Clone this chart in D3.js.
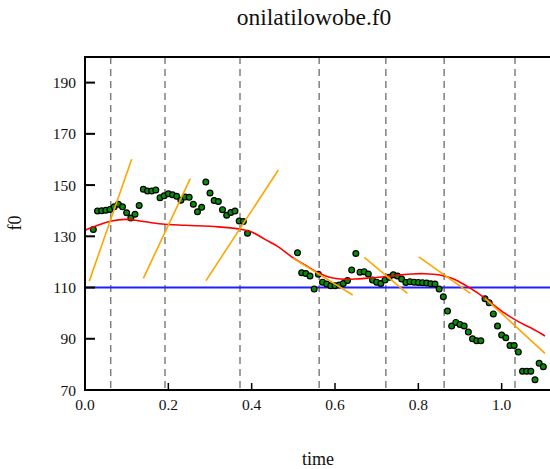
<!DOCTYPE html>
<html>
<head>
<meta charset="utf-8">
<script src="https://cdn.jsdelivr.net/npm/d3@7"></script>
<style>
  html, body { margin: 0; padding: 0; background: #fff; }
  svg { display: block; }
</style>
</head>
<body>
<svg id="chart" width="550" height="469"></svg>
<script>
// ---- data ----
const title = "onilatilowobe.f0";
const xLabel = "time";
const yLabel = "f0";
const xTicks = [0.0, 0.2, 0.4, 0.6, 0.8, 1.0];
const yTicks = [70, 90, 110, 130, 150, 170, 190];

// f0 samples, 10 ms step
const seg1Times = d3.range(0.02, 0.395, 0.01);
const seg1Values = [132.7, 139.9, 140.0, 140.2, 140.5, 141.5, 142.5, 141.5, 139.2, 137.1,
  138.6, 142.0, 148.4, 147.7, 147.7, 148.1, 145.1, 145.8, 146.6, 146.2,
  145.6, 144.1, 145.3, 145.2, 142.5, 139.6, 141.3, 151.2, 146.9, 144.0,
  143.6, 140.4, 138.2, 139.3, 139.9, 136.0, 135.8, 131.2];
const seg2Times = d3.range(0.51, 1.105, 0.01);
const seg2Values = [123.6, 115.8, 115.5, 114.5, 109.4, 115.2, 112.1, 111.4, 110.7, 110.7,
  111.0, 111.6, 112.7, 116.8, 123.3, 116.0, 116.2, 115.3, 112.9, 112.1,
  111.6, 112.9, 114.0, 115.0, 114.5, 113.3, 112.0, 112.3, 112.1, 112.0,
  111.9, 111.8, 111.5, 111.4, 109.4, 106.4, 100.8, 95.0, 96.4, 95.6,
  95.0, 92.6, 90.0, 89.2, 89.2, 105.6, 104.1, 99.7, 95.0, 91.5,
  90.4, 87.4, 87.4, 84.8, 77.3, 77.3, 77.3, 74.0, 80.4, 79.1];

// smooth fitted contour (red)
const curveTimes = [0, 0.032, 0.064, 0.096, 0.128, 0.16, 0.192, 0.24, 0.32, 0.368, 0.40,
  0.432, 0.464, 0.496, 0.528, 0.56, 0.592, 0.624, 0.656, 0.688, 0.72, 0.752, 0.784,
  0.816, 0.848, 0.88, 0.912, 0.944, 0.976, 1.008, 1.04, 1.072, 1.104];
const curveValues = [132.4, 134.4, 136.0, 136.6, 136.1, 135.3, 134.7, 134.3, 133.7, 132.9, 131.7,
  128.8, 125.9, 122.0, 118.8, 115.8, 113.8, 113.2, 113.4, 113.8, 114.2, 114.8, 115.3,
  115.4, 115.0, 113.6, 111.0, 107.7, 103.8, 99.9, 96.7, 94.1, 91.1];

// target slopes (orange): start/end times and values
const slopeT0 = [0.0103, 0.140, 0.2904, 0.500, 0.6704, 0.801, 0.960];
const slopeV0 = [112.5, 113.6, 112.7, 121.4, 121.8, 122.0, 105.8];
const slopeT1 = [0.112, 0.2527, 0.464, 0.6425, 0.7736, 0.9248, 1.104];
const slopeV1 = [160.1, 152.5, 155.9, 107.1, 107.7, 107.7, 84.3];

// syllable boundaries (dashed)
const boundaries = [0.0617, 0.192, 0.372, 0.562, 0.722, 0.862, 1.032];
const baseline = 110;

// ---- drawing ----
const FONT = "'Liberation Serif'";
const svg = d3.select("#chart");
const x = d3.scaleLinear().domain([0, 1.116]).range([85, 550]);
const y = d3.scaleLinear().domain([70, 200]).range([390, 57]);

// dashed boundaries
svg.append("g").selectAll("line").data(boundaries).join("line")
  .attr("x1", d => x(d)).attr("x2", d => x(d))
  .attr("y1", y(200)).attr("y2", y(70))
  .attr("stroke", "#808080").attr("stroke-width", 1.5)
  .attr("stroke-dasharray", "7,5");

// baseline
svg.append("line")
  .attr("x1", x(0)).attr("x2", x(1.116))
  .attr("y1", y(baseline)).attr("y2", y(baseline))
  .attr("stroke", "#2020ff").attr("stroke-width", 2);

// points
const pts = seg1Times.map((t, i) => [t, seg1Values[i]])
  .concat(seg2Times.map((t, i) => [t, seg2Values[i]]))
  .filter(d => d[1] !== undefined);
svg.append("g").selectAll("circle").data(pts).join("circle")
  .attr("cx", d => x(d[0])).attr("cy", d => y(d[1]))
  .attr("r", 2.9)
  .attr("fill", "#0a8a0a").attr("stroke", "#000").attr("stroke-width", 1.2);

// red curve
const line = d3.line().x(d => x(d[0])).y(d => y(d[1])).curve(d3.curveCatmullRom.alpha(0.5));
svg.append("path")
  .datum(curveTimes.map((t, i) => [t, curveValues[i]]))
  .attr("d", line)
  .attr("fill", "none").attr("stroke", "#ff0000").attr("stroke-width", 1.6);

// orange slopes
svg.append("g").selectAll("line").data(slopeT0.map((t, i) => i)).join("line")
  .attr("x1", i => x(slopeT0[i])).attr("y1", i => y(slopeV0[i]))
  .attr("x2", i => x(slopeT1[i])).attr("y2", i => y(slopeV1[i]))
  .attr("stroke", "#ffa500").attr("stroke-width", 1.6);

// axes frame
svg.append("line").attr("x1", x(0)).attr("x2", x(1.116)).attr("y1", y(200)).attr("y2", y(200))
  .attr("stroke", "#000").attr("stroke-width", 2);
svg.append("line").attr("x1", x(0)).attr("x2", x(1.116)).attr("y1", y(70)).attr("y2", y(70))
  .attr("stroke", "#000").attr("stroke-width", 2);
svg.append("line").attr("x1", x(0)).attr("x2", x(0)).attr("y1", y(200) - 1).attr("y2", y(70) + 1)
  .attr("stroke", "#000").attr("stroke-width", 2);

// y ticks
const yAxis = svg.append("g");
yAxis.selectAll("line").data(yTicks).join("line")
  .attr("x1", x(0)).attr("x2", x(0) + 10)
  .attr("y1", d => y(d)).attr("y2", d => y(d))
  .attr("stroke", "#000").attr("stroke-width", 2);
yAxis.selectAll("text").data(yTicks).join("text")
  .attr("x", 76).attr("y", d => y(d) + 5.5)
  .attr("text-anchor", "end").attr("font-size", 15.5)
  .attr("font-family", FONT).attr("fill", "#111")
  .text(d => d);

// x ticks
const xAxis = svg.append("g");
xAxis.selectAll("line").data(xTicks).join("line")
  .attr("x1", d => x(d)).attr("x2", d => x(d))
  .attr("y1", y(70)).attr("y2", y(70) - 7)
  .attr("stroke", "#000").attr("stroke-width", 1.5);
xAxis.selectAll("text").data(xTicks).join("text")
  .attr("x", d => x(d)).attr("y", 409.5)
  .attr("text-anchor", "middle").attr("font-size", 15.5)
  .attr("font-family", FONT).attr("fill", "#111")
  .text(d => d.toFixed(1));

// labels
svg.append("text").attr("x", 314).attr("y", 25)
  .attr("text-anchor", "middle").attr("font-size", 23.5)
  .attr("font-family", FONT).attr("fill", "#111").text(title);
svg.append("text").attr("x", 318).attr("y", 465)
  .attr("text-anchor", "middle").attr("font-size", 18)
  .attr("font-family", FONT).attr("fill", "#111").text(xLabel);
svg.append("text").attr("transform", "translate(21,223) rotate(-90)")
  .attr("text-anchor", "middle").attr("font-size", 18)
  .attr("font-family", FONT).attr("fill", "#111").text(yLabel);
</script>
</body>
</html>
